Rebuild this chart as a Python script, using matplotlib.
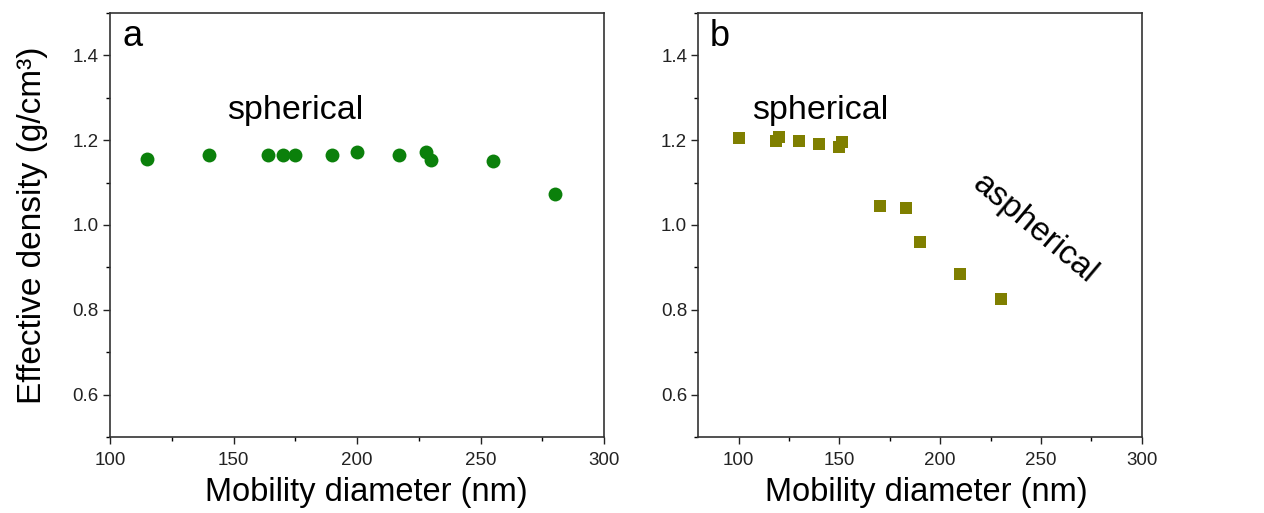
import matplotlib
matplotlib.use('Agg')
import matplotlib.pyplot as plt
from matplotlib.ticker import MultipleLocator

plt.rcParams['font.family'] = ['Liberation Sans', 'DejaVu Sans']

# Panel a: spherical particles
diam_a = [115, 140, 164, 170, 175, 190, 200, 217, 228, 230, 255, 280]
dens_a = [1.156, 1.166, 1.166, 1.166, 1.165, 1.166, 1.171, 1.166, 1.172, 1.153, 1.150, 1.073]

# Panel b: spherical -> aspherical
diam_b = [100, 118.5, 120, 130, 140, 150, 151.5, 170, 183, 190, 210, 230]
dens_b = [1.205, 1.198, 1.208, 1.199, 1.190, 1.184, 1.195, 1.044, 1.040, 0.960, 0.884, 0.826]

fig = plt.figure(figsize=(12.64, 5.13), dpi=100)
ax_a = fig.add_axes([0.087, 0.148, 0.391, 0.827])
ax_b = fig.add_axes([0.5525, 0.148, 0.3508, 0.827])


def style(ax, xmin):
    ax.set_xlim(xmin, 300)
    ax.set_ylim(0.5, 1.5)
    ax.xaxis.set_minor_locator(MultipleLocator(25))
    ax.yaxis.set_minor_locator(MultipleLocator(0.1))
    ax.set_yticks([0.6, 0.8, 1.0, 1.2, 1.4])
    ax.set_xticks([100, 150, 200, 250, 300])
    ax.tick_params(which='major', direction='out', length=5, width=1,
                   labelsize=13.5, colors='#222222', pad=3)
    ax.tick_params(axis='x', which='major', pad=6)
    ax.tick_params(which='minor', direction='out', length=3, width=1)
    ax.tick_params(axis='both', which='both', top=False, right=False)
    for s in ax.spines.values():
        s.set_color('#333333')
        s.set_linewidth(1.2)
    ax.set_xlabel('Mobility diameter (nm)', fontsize=23.5, labelpad=6)


style(ax_a, 100)
style(ax_b, 80)
ax_a.xaxis.set_label_coords(0.518, -0.095)
ax_b.xaxis.set_label_coords(0.515, -0.095)

ax_a.plot(diam_a, dens_a, 'o', color='#0b800b', markersize=10, markeredgewidth=0)
ax_b.plot(diam_b, dens_b, 's', color='#7f7f00', markersize=9, markeredgewidth=0)

ax_a.set_ylabel('Effective density (g/cm³)', fontsize=24, labelpad=18)

ax_a.text(0.025, 0.985, 'a', transform=ax_a.transAxes, fontsize=26, va='top', ha='left')
ax_b.text(0.025, 0.985, 'b', transform=ax_b.transAxes, fontsize=26, va='top', ha='left')

ax_a.text(147.5, 1.269, 'spherical', fontsize=24.5, va='center', ha='left')
ax_b.text(106.5, 1.269, 'spherical', fontsize=24.5, va='center', ha='left')
ax_b.text(247, 0.99, 'aspherical', fontsize=24, va='center', ha='center',
          rotation=-40, rotation_mode='anchor')

fig.savefig('out.png', dpi=100)
